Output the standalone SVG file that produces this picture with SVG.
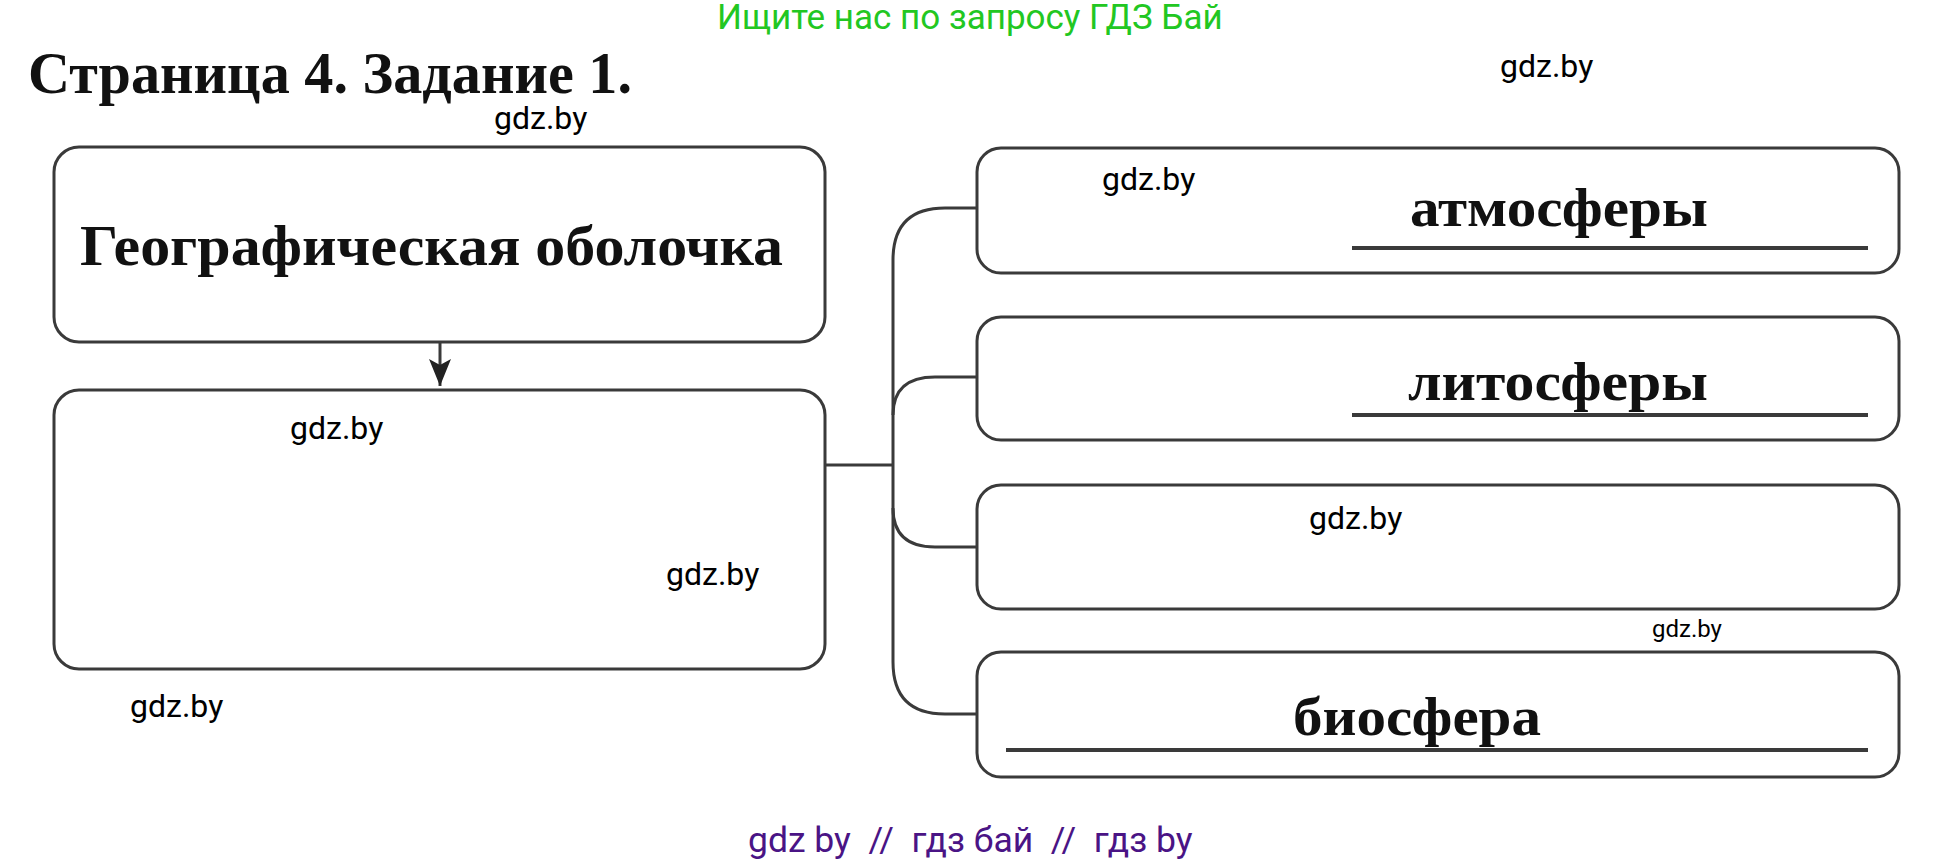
<svg xmlns="http://www.w3.org/2000/svg" width="1938" height="864" viewBox="0 0 1938 864">
<style>
.box{fill:#fff;stroke:#3a3a3a;stroke-width:3}
.con{fill:none;stroke:#3a3a3a;stroke-width:3}
.ul{stroke:#3a3a3a;stroke-width:4}
.scan{font-family:"Liberation Serif","Times New Roman",serif;font-weight:bold;fill:#111}
.wm{font-family:Roboto,"Liberation Sans",sans-serif;font-size:32px;fill:#000}
.wm-s{font-size:24px}
</style>
<defs>
<marker id="arr" viewBox="0 0 28 22" refX="27" refY="11" markerWidth="28" markerHeight="22" markerUnits="userSpaceOnUse" orient="auto">
<path d="M0,0 L27,11 L0,22 L6,11 Z" fill="#222"/>
</marker>
</defs>
<rect width="1938" height="864" fill="#fff"/>
<text x="717" y="29" font-family="Roboto,'Liberation Sans',sans-serif" font-size="35" fill="#22c722">Ищите нас по запросу ГДЗ Бай</text>
<text x="28" y="93" class="scan" font-size="60" textLength="604" lengthAdjust="spacingAndGlyphs">Страница 4. Задание 1.</text>

<g id="connectors">
<line x1="440" y1="343" x2="440" y2="386" class="con" marker-end="url(#arr)"/>
<path class="con" d="M825,465 H893"/>
<path class="con" d="M977,208 H945 Q893,208 893,260 V662 Q893,714 945,714 H977"/>
<path class="con" d="M893,415 Q893,377 935,377 H977"/>
<path class="con" d="M893,508 Q893,547 935,547 H977"/>
</g>

<g id="node-geo">
<rect class="box" x="54" y="147" width="771" height="195" rx="25"/>
<text x="80" y="265" class="scan" font-size="56" textLength="703" lengthAdjust="spacingAndGlyphs">Географическая оболочка</text>
</g>
<g id="node-components">
<rect class="box" x="54" y="390" width="771" height="279" rx="25"/>
</g>
<g id="node-atmosphere">
<rect class="box" x="977" y="148" width="922" height="125" rx="24"/>
<text x="1410" y="226" class="scan" font-size="54" textLength="298" lengthAdjust="spacingAndGlyphs">атмосферы</text>
<line class="ul" x1="1352" y1="248" x2="1868" y2="248"/>
</g>
<g id="node-lithosphere">
<rect class="box" x="977" y="317" width="922" height="123" rx="24"/>
<text x="1408" y="400" class="scan" font-size="54" textLength="300" lengthAdjust="spacingAndGlyphs">литосферы</text>
<line class="ul" x1="1352" y1="415" x2="1868" y2="415"/>
</g>
<g id="node-empty">
<rect class="box" x="977" y="485" width="922" height="124" rx="24"/>
</g>
<g id="node-biosphere">
<rect class="box" x="977" y="652" width="922" height="125" rx="24"/>
<text x="1293" y="735" class="scan" font-size="54" textLength="248" lengthAdjust="spacingAndGlyphs">биосфера</text>
<line class="ul" x1="1006" y1="750" x2="1868" y2="750"/>
</g>

<g id="watermarks">
<text class="wm" x="494" y="129">gdz.by</text>
<text class="wm" x="1500" y="77">gdz.by</text>
<text class="wm" x="1102" y="190">gdz.by</text>
<text class="wm" x="290" y="439">gdz.by</text>
<text class="wm" x="666" y="585">gdz.by</text>
<text class="wm" x="130" y="717">gdz.by</text>
<text class="wm" x="1309" y="529">gdz.by</text>
<text class="wm wm-s" x="1652" y="637">gdz.by</text>
</g>
<text x="748" y="852" font-family="Roboto,'Liberation Sans',sans-serif" font-size="35.5" fill="#4a1485" xml:space="preserve">gdz by  //  гдз бай  //  гдз by</text>
</svg>
